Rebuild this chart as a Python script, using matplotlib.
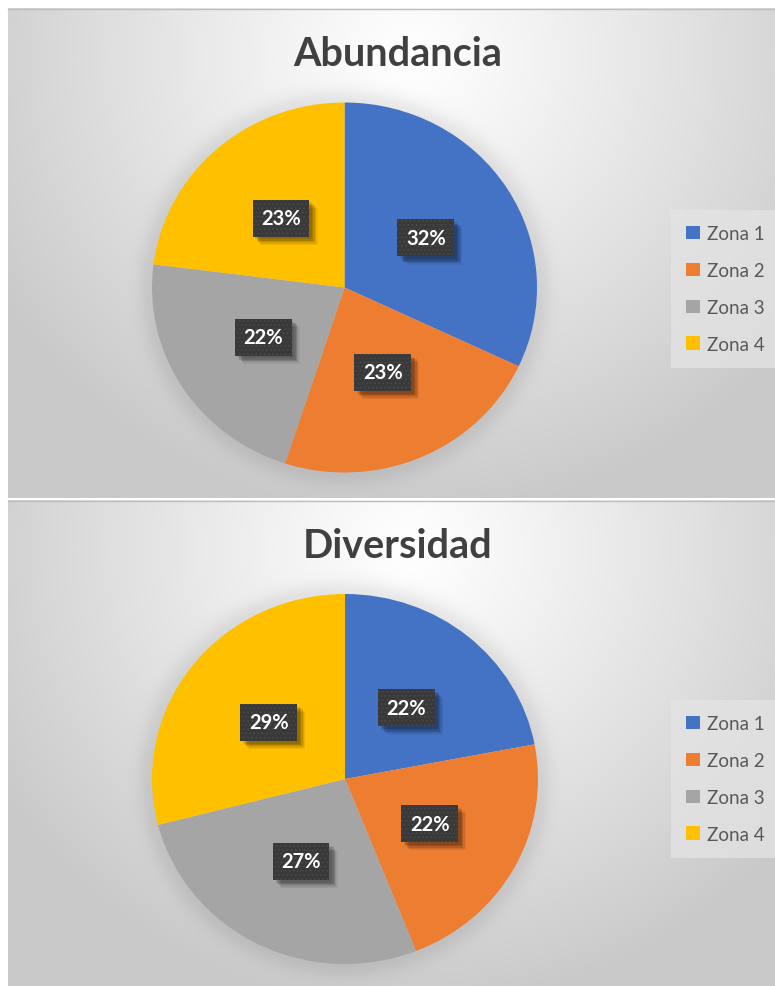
import numpy as np
import matplotlib
matplotlib.use("Agg")
import matplotlib.pyplot as plt
import matplotlib.patheffects as pe

# Datos
zonas = ["Zona 1", "Zona 2", "Zona 3", "Zona 4"]
abundancia = [32, 23, 22, 23]
diversidad = [22, 22, 27, 29]
titulos = ["Abundancia", "Diversidad"]
colores = ["#4472C4", "#ED7D31", "#A5A5A5", "#FFC000"]

W, H = 775, 987
plt.rcParams["font.family"] = ["Lato", "DejaVu Sans"]
plt.rcParams["hatch.color"] = "#4a4a4a"
plt.rcParams["hatch.linewidth"] = 0.7

fig = plt.figure(figsize=(W / 100, H / 100), dpi=100, facecolor="white")
bg = fig.add_axes([0, 0, 1, 1])
bg.set_xlim(0, W)
bg.set_ylim(H, 0)
bg.axis("off")

# Paneles: (x0, y0, x1, y1) en píxeles, centro de la tarta y radios
paneles = [
    dict(box=(8, 9, 775, 499), pie=(344.5, 288.5, 192.5, 185.0),
         title_y=54, legend_y=290),
    dict(box=(8, 501, 775, 987), pie=(345.0, 780.0, 193.0, 185.0),
         title_y=546, legend_y=780),
]
series = [abundancia, diversidad]


def fondo(x0, y0, x1, y1, cx, cy, pc):
    xs = np.arange(x0, x1) + 0.5
    ys = np.arange(y0, y1) + 0.5
    X, Y = np.meshgrid(xs, ys)
    t = np.sqrt(((X - cx) / 480.0) ** 2 + ((Y - cy) / 460.0) ** 2)
    t = np.clip(t, 0, 1) ** 1.1
    blanco, gris = 1.0, 0.79
    v = blanco * (1 - t) + gris * t
    # halo suave alrededor de la tarta
    px, py, rx, ry = pc
    rn = np.sqrt(((X - px) / rx) ** 2 + ((Y - py) / ry) ** 2)
    d = (rn - 1) * (rx + ry) / 2
    halo = np.where(d > 0, np.exp(-(d / 14.0) ** 2), 1.0) * 0.07
    v = v - halo
    img = np.dstack([v, v, v])
    bg.imshow(img, extent=(x0, x1, y1, y0), origin="upper",
              interpolation="bilinear", zorder=0)


class Sombra(pe.AbstractPathEffect):
    """Sombra lisa (sin trama) desplazada bajo la caja de la etiqueta."""

    def __init__(self, offset, alpha):
        super().__init__(offset)
        self.alpha = alpha

    def draw_path(self, renderer, gc, tpath, affine, rgbFace):
        gc0 = renderer.new_gc()
        gc0.copy_properties(gc)
        gc0.set_hatch(None)
        gc0.set_foreground("none")
        gc0.set_linewidth(0)
        gc0.set_alpha(self.alpha)
        renderer.draw_path(gc0, tpath, affine + self._offset_transform(renderer),
                           (0, 0, 0))
        gc0.restore()


sombra = [Sombra((o, -o), a) for o, a in [(6, 0.06), (5, 0.09), (4, 0.12), (3, 0.14), (2, 0.10)]]
sombra.append(pe.Normal())

for i, p in enumerate(paneles):
    x0, y0, x1, y1 = p["box"]
    fondo(x0, y0, x1, y1, 410, y0 + 50, p["pie"])
    bg.plot([x0, x1], [y0 + 0.5, y0 + 0.5], color="#bdbdbd", lw=1, zorder=1)

    bg.text(398, p["title_y"], titulos[i], ha="center", va="center",
            fontsize=28.5, fontweight="bold", color="#404040", zorder=2)

    cx, cy, rx, ry = p["pie"]
    ax = fig.add_axes([(cx - rx) / W, 1 - (cy + ry) / H, 2 * rx / W, 2 * ry / H])
    wedges, _, autot = ax.pie(
        series[i], colors=colores, startangle=90, counterclock=False,
        radius=1, autopct=lambda v: f"{v:.0f}%", pctdistance=0.5,
        wedgeprops=dict(linewidth=0),
        textprops=dict(color="white", fontsize=14.5, fontweight="bold"),
    )
    ax.set_aspect("auto")
    ax.set_xlim(-1, 1)
    ax.set_ylim(-1, 1)
    ax.axis("off")
    for t in autot:
        t.set_bbox(dict(boxstyle="square,pad=0.42", facecolor="#393939",
                        edgecolor="#4a4a4a", hatch="....", linewidth=0))
        t.get_bbox_patch().set_path_effects(sombra)

    leg = ax.legend(wedges, zonas, loc="center left",
                    bbox_to_anchor=(677 / W, 1 - p["legend_y"] / H),
                    bbox_transform=fig.transFigure,
                    fontsize=13.5, frameon=True, handlelength=0.7,
                    handleheight=0.7, handletextpad=0.4, labelspacing=1.05,
                    borderpad=0.5, borderaxespad=0)
    fr = leg.get_frame()
    fr.set_facecolor("#e4e4e4")
    fr.set_edgecolor("none")
    fr.set_alpha(0.75)
    fr.set_boxstyle("square")
    for txt in leg.get_texts():
        txt.set_color("#595959")

fig.savefig("out.png", dpi=100, facecolor="white")
